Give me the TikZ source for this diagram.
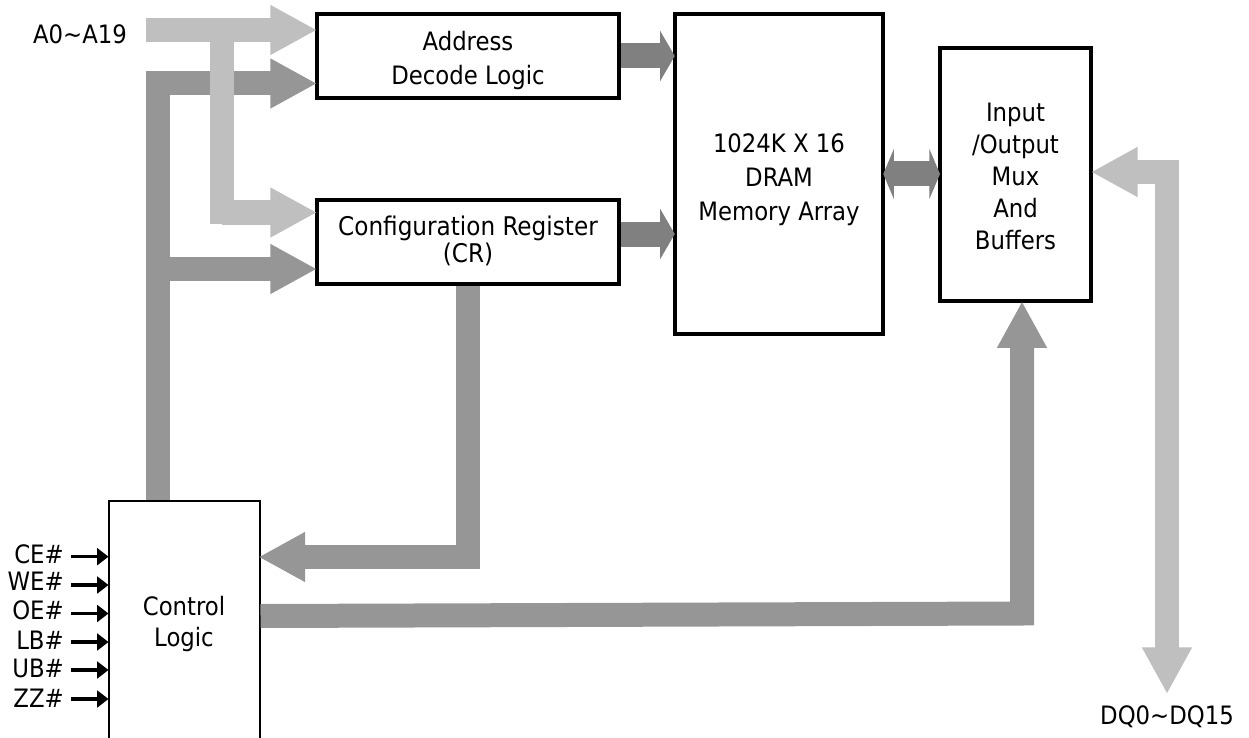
\documentclass[tikz,border=0pt]{standalone}
\usepackage{fontspec}
\setmainfont{DejaVu Sans Condensed}
\usetikzlibrary{arrows.meta}
\definecolor{light}{HTML}{BFBFBF}
\definecolor{mid}{HTML}{969696}
\definecolor{dark}{HTML}{808080}
\newcommand{\pxw}[1]{#1*0.75pt}
\tikzset{
  x=0.75pt,y=-0.75pt,
  block/.style={draw=black,line width=3pt,fill=white,inner sep=0pt},
  thinblock/.style={block,line width=1.5pt},
  blocktext/.style={inner sep=0pt,align=center,font=\fontsize{19}{25.5}\selectfont},
  lab/.style={inner sep=0pt,font=\fontsize{19}{22}\selectfont},
  sig/.style={lab,anchor=east},
  bus/.style={line width=18pt,miter limit=10,shorten >=-1.5pt,-{Triangle[length=35pt,width=35pt]}},
  dqbus/.style={line width=18pt,miter limit=10,shorten >=-1.5pt,shorten <=-1.5pt,{Triangle[length=35pt,width=35pt]}-{Triangle[length=35pt,width=35pt]}},
  plain/.style={line width=18pt},
  sbus/.style={line width=18.75pt,dark,shorten >=-1.5pt,-{Triangle[length=11pt,width=37.5pt]}},
  dbus/.style={line width=18.75pt,dark,shorten >=-1.5pt,shorten <=-1.5pt,{Triangle[length=8pt,width=37.5pt]}-{Triangle[length=8pt,width=37.5pt]}},
  pinarrow/.style={line width=2.5pt,shorten >=-0.75pt,-{Triangle[length=8.5pt,width=12.5pt]}},
}
\begin{document}
\begin{tikzpicture}
\useasboundingbox (0,0) rectangle (1249,738);
% blocks
\node[block,minimum width=\pxw{302},minimum height=\pxw{83.5},
  label={[blocktext,name=addrT,yshift=-3.75pt]center:{Address\\Decode Logic}}] (addr) at (468,56) {};
\node[block,minimum width=\pxw{302},minimum height=\pxw{84},
  label={[blocktext,name=cfgT,yshift=0.75pt,font=\fontsize{19.3}{17.3}\selectfont]center:{Configuration Register\\(CR)}}] (cfg) at (468,242) {};
\node[block,minimum width=\pxw{208.5},minimum height=\pxw{320.5},
  label={[blocktext,name=memT,yshift=-4.5pt]center:{1024K X 16\\DRAM\\Memory Array}}] (mem) at (779,174) {};
\node[block,minimum width=\pxw{151},minimum height=\pxw{253.5},
  label={[blocktext,name=ioT,yshift=-1.5pt,font=\fontsize{19}{24}\selectfont]center:{Input\\/Output\\Mux\\And\\Buffers}}] (io) at (1015.5,174.5) {};
\node[thinblock,minimum width=\pxw{151},minimum height=\pxw{243},
  label={[blocktext,name=ctlT,yshift=-1.5pt,font=\fontsize{19}{23.5}\selectfont]center:{Control\\Logic}}] (ctl) at (184,622) {};
% labels
\node[lab] (alab) at (80,34) {A0\textasciitilde A19};
\node[lab] (dqlab) at (1167,717) {DQ0\textasciitilde DQ15};
\coordinate (aS) at (146,30);
\coordinate (aB) at (222,30);
\coordinate (aC) at (222,212.5);
\coordinate (cS) at (146,83.5);
\coordinate (cT) at (157.5,83.5);
\coordinate (cM) at (157.5,269);
\coordinate (cB) at (157.5,500);
% control buses
\draw[plain,mid] (cB) -- (cT);
\draw[bus,mid] (cS) -- (cS -| addr.west);
\draw[bus,mid] (cM) -- (cM -| cfg.west);
% address buses
\draw[bus,light] (aS) -- (aS -| addr.west);
\draw[plain,light] (222,224) -- (aB);
\draw[bus,light] (aC) -- (aC -| cfg.west);
% block to block
\draw[sbus] (addr.east) -- (mem.west |- addr.east);
\draw[sbus] (cfg.east |- 0,234) -- (mem.west |- 0,234);
\draw[dbus] (mem.east) -- (io.west |- mem.east);
% feedback
\coordinate (fbC) at (cfg.south |- 0,557);
\draw[bus,mid] (cfg.south) -- (fbC) -- (fbC -| ctl.east);
% control to io
\coordinate (oS) at (ctl.east |- 0,616);
\coordinate (oT) at ([xshift=6.5*0.75pt]io.south);
\coordinate (oC) at (oT |- 0,613.5);
\draw[bus,mid] (oS) -- (oC) -- (oT);
% dq
\coordinate (dqC) at (1167,172);
\coordinate (dqE) at (1167,692);
\draw[dqbus,light] (dqC -| io.east) -- (dqC) -- (dqE);
% pins
\foreach \n/\ty/\ly in {CE/556.7/554,WE/585/581,OE/613.5/610,LB/642/640,UB/670/668,ZZ/699/698}{
  \node[sig] (\n lab) at (64,\ly) {\n\#};
  \coordinate (\n p) at (71,\ty);
  \draw[pinarrow] (\n p) -- (\n p -| ctl.west);
}
\end{tikzpicture}
\end{document}
